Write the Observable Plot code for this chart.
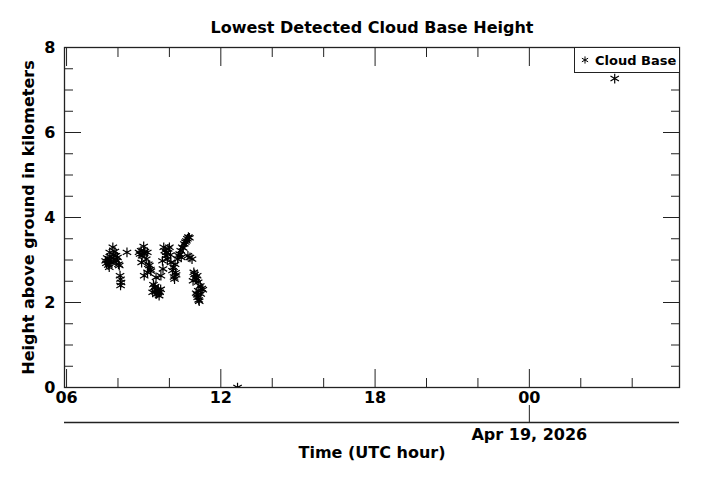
<!DOCTYPE html>
<html><head><meta charset="utf-8">
<script src="https://cdn.jsdelivr.net/npm/d3@7"></script>
<script src="https://cdn.jsdelivr.net/npm/@observablehq/plot@0.6"></script>
<style>
body{margin:0;background:#fff;}
#wrap{position:relative;width:701px;height:480px;font-family:"DejaVu Sans",sans-serif;}
#legend{position:absolute;left:574px;top:47px;width:106px;height:26px;border:1px solid #222;box-sizing:border-box;background:#fff;display:flex;align-items:center;font-weight:bold;font-size:13px;color:#000;}
#legend svg{margin-left:4px;margin-right:4px;}
</style></head><body><div id="wrap"></div>
<script>
const title = "Lowest Detected Cloud Base Height";
const yLabel = "Height above ground in kilometers";
const xLabel = "Time (UTC hour)";
const dateLabel = "Apr 19, 2026";
const seriesName = "Cloud Base";
const dayStartUTC = Date.UTC(2026, 3, 18);
const xDomainHours = [5.92, 29.84];
const yDomain = [0, 8];
const majorXHours = [6, 12, 18, 24];
const minorXHours = [8, 10, 14, 16, 20, 22, 26, 28];
const dateTickHours = [24];
const majorY = [0, 2, 4, 6, 8];
const minorY = [0.5, 1, 1.5, 2.5, 3, 3.5, 4.5, 5, 5.5, 6.5, 7, 7.5];
const cloudHours = [
  7.52, 7.55, 7.58, 7.62, 7.65, 7.66, 7.68, 7.70, 7.73, 7.76, 7.80, 7.82, 7.85, 7.88, 7.92, 7.95, 7.98, 8.02, 8.05,
  8.08, 8.10, 8.12, 8.10,
  8.35,
  8.82, 8.86, 8.90, 8.94, 9.00, 9.02, 9.05, 9.10, 9.14, 8.92, 9.18, 9.22, 9.26, 9.28, 9.15, 9.02,
  9.38, 9.42, 9.45, 9.48, 9.50, 9.52, 9.55, 9.57, 9.60, 9.62, 9.66, 9.67, 9.35, 9.45,
  9.73, 9.75, 9.78, 9.82, 9.86, 9.88, 9.92, 9.95, 10.00, 10.04, 10.06,
  10.12, 10.16, 10.18, 10.20, 10.24, 10.26, 10.22,
  10.32, 10.36, 10.40, 10.44, 10.46, 10.50, 10.54, 10.58, 10.62, 10.66, 10.70, 10.74, 10.78, 10.72, 10.80, 10.88,
  10.95, 10.98, 11.02, 10.92, 11.08, 11.05, 11.12, 11.20, 11.26, 11.30, 11.04, 11.08, 11.10, 11.14, 11.16, 11.12, 11.22,
  12.65, 27.32
];
const cloudHeights = [
  2.98, 2.92, 3.05, 2.88, 3.00, 2.83, 3.18, 2.95, 3.08, 2.94, 3.30, 3.12, 3.02, 3.20, 3.10, 2.98, 3.06, 2.90, 2.87,
  2.63, 2.55, 2.47, 2.40,
  3.18,
  3.18, 3.14, 3.22, 3.10, 3.32, 3.16, 3.20, 3.02, 3.18, 2.94, 2.90, 2.87, 2.78, 2.74, 2.71, 2.63,
  2.42, 2.35, 2.25, 2.59, 2.20, 2.30, 2.22, 2.28, 2.16, 2.24, 2.31, 2.63, 2.24, 2.38,
  2.98, 2.79, 3.30, 3.22, 3.10, 3.18, 3.02, 3.26, 3.30, 3.12, 2.94,
  2.75, 2.83, 2.60, 2.55, 2.70, 2.65, 2.90,
  3.02, 3.10, 3.14, 3.22, 3.06, 3.30, 3.28, 3.38, 3.42, 3.45, 3.50, 3.54, 3.52, 3.10, 3.06, 3.02,
  2.71, 2.66, 2.59, 2.51, 2.63, 2.55, 2.48, 2.39, 2.33, 2.30, 2.22, 2.18, 2.12, 2.06, 2.03, 2.28, 2.20,
  0.0, 7.27
];

const toDate = h => new Date(dayStartUTC + h * 3600e3);
const points = cloudHours.map((h, i) => ({t: toDate(h), v: cloudHeights[i]}));
const majorX = majorXHours.map(toDate);
const minorX = minorXHours.map(toDate);
const dateTicks = dateTickHours.map(toDate);
const ink = "#222";
const blank = () => "";
const textStyle = {fontSize: 16, fontWeight: "bold", lineAnchor: "middle", textAnchor: "middle", fill: "#000"};

const chart = Plot.plot({
  width: 701, height: 480,
  marginLeft: 64, marginRight: 22, marginTop: 47, marginBottom: 93,
  style: {fontFamily: "DejaVu Sans", fontWeight: "bold", fontSize: "16px", color: "#000", background: "#fff"},
  x: {type: "utc", domain: xDomainHours.map(toDate)},
  y: {domain: yDomain},
  marks: [
    Plot.axisX(majorX, {anchor: "bottom", tickSize: -18, tickFormat: blank, stroke: ink, label: null}),
    Plot.axisX(minorX, {anchor: "bottom", tickSize: -9, tickFormat: blank, stroke: ink, label: null}),
    Plot.axisX(majorX, {anchor: "top", tickSize: -18, tickFormat: blank, stroke: ink, label: null}),
    Plot.axisX(minorX, {anchor: "top", tickSize: -9, tickFormat: blank, stroke: ink, label: null}),
    Plot.axisX(majorX, {anchor: "bottom", tickSize: 0, tickPadding: 4, tickFormat: d3.utcFormat("%H"), label: null, fill: "#000"}),
    Plot.axisY(majorY, {anchor: "left", tickSize: -17, tickFormat: blank, stroke: ink, label: null}),
    Plot.axisY(minorY, {anchor: "left", tickSize: -9, tickFormat: blank, stroke: ink, label: null}),
    Plot.axisY(majorY, {anchor: "right", tickSize: -17, tickFormat: blank, stroke: ink, label: null}),
    Plot.axisY(minorY, {anchor: "right", tickSize: -9, tickFormat: blank, stroke: ink, label: null}),
    Plot.axisY(majorY, {anchor: "left", tickSize: 0, tickPadding: 9, tickFormat: d3.format("d"), label: null, fill: "#000"}),
    Plot.frame({stroke: ink, strokeWidth: 1.3}),
    Plot.ruleY([yDomain[0]], {dy: 35, stroke: ink, strokeWidth: 1.3}),
    Plot.axisX(dateTicks, {anchor: "bottom", dy: 35, tickSize: -17, tickFormat: blank, stroke: ink, label: null}),
    Plot.text(dateTicks, {x: d => d, text: () => dateLabel, frameAnchor: "bottom", dy: 47, ...textStyle}),
    Plot.text([xLabel], {frameAnchor: "bottom", dy: 65, ...textStyle}),
    Plot.text([yLabel], {frameAnchor: "left", rotate: -90, dx: -36, ...textStyle}),
    Plot.text([title], {frameAnchor: "top", dy: -20, ...textStyle}),
    Plot.dot(points, {x: "t", y: "v", symbol: "asterisk", r: 4.6, stroke: "#000", strokeWidth: 1.2, clip: true})
  ]
});
const wrap = document.getElementById("wrap");
wrap.appendChild(chart);

const legend = document.createElement("div");
legend.id = "legend";
const sym = d3.symbol(d3.symbolAsterisk, 36)();
legend.innerHTML = `<svg width="12" height="12" viewBox="-6 -6 12 12"><path d="${sym}" stroke="#000" stroke-width="1" fill="none"/></svg><span>${seriesName}</span>`;
wrap.appendChild(legend);
</script></body></html>
